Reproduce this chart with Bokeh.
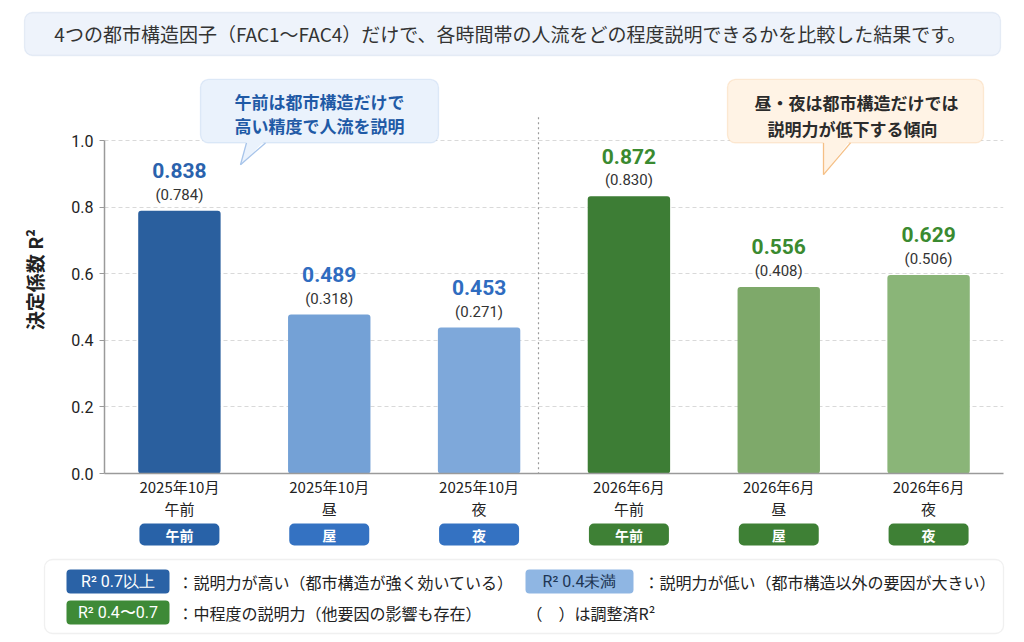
# -*- coding: utf-8 -*-
"""
R2 comparison of the four urban-structure factors, by time band (bokeh)
"""

from bokeh.plotting import figure
from bokeh.layouts import column
from bokeh.models import (ColumnDataSource, FactorRange, Range1d, FixedTicker, PrintfTickFormatter,
                          LabelSet, Label, BoxAnnotation)
from bokeh.core.properties import value
from bokeh.embed import file_html
from bokeh.resources import INLINE


## ----- DATA ----- ##
PERIODS     = ["2025年10月", "2025年10月", "2025年10月", "2026年6月", "2026年6月", "2026年6月"]
TIMES       = ["午前", "昼", "夜", "午前", "昼", "夜"]
TAGS        = ["午前", "屋", "夜", "午前", "屋", "夜"]
R2_TEXT     = ["0.838", "0.489", "0.453", "0.872", "0.556", "0.629"]
ADJ_TEXT    = ["(0.784)", "(0.318)", "(0.271)", "(0.830)", "(0.408)", "(0.506)"]
BAR_HEIGHT  = [0.790, 0.478, 0.439, 0.834, 0.561, 0.597]

Y_TICKS       = [0.0, 0.2, 0.4, 0.6, 0.8, 1.0]
Y_TICK_LABELS = ["0.0", "0.2", "0.4", "0.6", "0.8", "1.0"]

TITLE       = "4つの都市構造因子（FAC1〜FAC4）だけで、各時間帯の人流をどの程度説明できるかを比較した結果です。"
NOTE_LEFT   = ["午前は都市構造だけで", "高い精度で人流を説明"]
NOTE_RIGHT  = ["昼・夜は都市構造だけでは", "説明力が低下する傾向"]
LEGEND_SW   = ["R² 0.7以上", "R² 0.4未満", "R² 0.4〜0.7"]
LEGEND_TXT  = ["：説明力が高い（都市構造が強く効いている）", "：説明力が低い（都市構造以外の要因が大きい）",
               "：中程度の説明力（他要因の影響も存在）"]
ADJ_NOTE    = "（　）は調整済R²"


## ----- STYLE ----- ##
JP   = "Noto Sans CJK JP"
NUM  = "Roboto"

BAR_COLOURS = ["#2a5f9e", "#74a1d6", "#7ea8da", "#3d7d35", "#7ea96a", "#8ab578"]
VAL_COLOURS = ["#2a62ad", "#2f6cc0", "#2f6cc0", "#3a8a30", "#3a8a30", "#3a8a30"]
TAG_COLOURS = ["#2862a8", "#3472c2", "#3472c2", "#3e8035", "#3e8035", "#3e8035"]
SW_COLOURS  = ["#2a62a6", "#8fb6e3", "#3e8a37"]
SW_TEXT_COL = ["white", "#1d3553", "white"]

W, H = 1024, 642
SPLIT_TOP, SPLIT_BOTTOM = 66, 522      # page rows where the title / chart / legend strips meet
FRAME_L, FRAME_R = 104, 1003
AXIS_Y = 476
PX_PER_UNIT = 335.0


def strip(y0, y1):
    """full width figure whose data coords are page pixels"""
    f = figure(width=W, height=y1 - y0, x_range=Range1d(0, W), y_range=Range1d(y1, y0),
               x_axis_location=None, y_axis_location=None, min_border=0, frame_align=False,
               output_backend="svg", toolbar_location=None)
    f.grid.visible = False
    f.outline_line_color = None
    f.background_fill_color = "white"
    f.border_fill_color = "white"
    return f

def box(f, l, r, t, b, fill, line, radius=8, **kw):
    f.add_layout(BoxAnnotation(left=l, right=r, top=t, bottom=b, fill_color=fill, fill_alpha=1,
                               line_color=line, line_width=1.3, border_radius=radius, **kw))

def text(f, x, y, s, size, colour, bold=False, align="center", font=JP, **kw):
    f.add_layout(Label(x=x, y=y, text=s, text_align=align, text_baseline="middle", text_color=colour,
                       text_font=font, text_font_size=size,
                       text_font_style="bold" if bold else "normal", **kw))


## ----- TITLE STRIP ----- ##
top = strip(0, SPLIT_TOP)
box(top, 24, 1000, 12, 55, "#eef3fb", "#b9cbe4")
text(top, 510, 33, TITLE, "19px", "#333333")


## ----- CHART ----- ##
cats = ["{}\n{}".format(a, b) for a, b in zip(PERIODS, TIMES)]
n = len(cats)

src = ColumnDataSource(data=dict(cat=cats, h=BAR_HEIGHT, r2=R2_TEXT, adj=ADJ_TEXT,
                                 bar_col=BAR_COLOURS, val_col=VAL_COLOURS))

p = figure(x_range=FactorRange(factors=cats), y_range=Range1d(0, (AXIS_Y - SPLIT_TOP) / PX_PER_UNIT),
           width=W, height=SPLIT_BOTTOM - SPLIT_TOP, output_backend="svg", toolbar_location=None,
           min_border_left=FRAME_L, min_border_right=W - FRAME_R, frame_align=False,
           min_border_top=0, min_border_bottom=SPLIT_BOTTOM - AXIS_Y)
p.background_fill_color = "white"
p.border_fill_color = "white"
p.outline_line_color = None

# page-pixel y range for the callouts drawn inside the frame
p.extra_y_ranges = {"py": Range1d(AXIS_Y, SPLIT_TOP)}

def sx(px):
    """page x pixel -> synthetic x of the factor range"""
    return (px - FRAME_L) * n / (FRAME_R - FRAME_L)

# axes
p.yaxis.ticker = FixedTicker(ticks=Y_TICKS)
p.yaxis.formatter = PrintfTickFormatter(format="%.1f")
p.yaxis.major_label_overrides = dict(zip(Y_TICKS, Y_TICK_LABELS))
p.yaxis.bounds = (0, 1)
p.yaxis.axis_line_color = "#9a9a9a"
p.yaxis.axis_line_width = 1.5
p.yaxis.major_tick_line_color = "#9a9a9a"
p.yaxis.major_tick_out = 5
p.yaxis.major_tick_in = 0
p.yaxis.minor_tick_line_color = None
p.yaxis.major_label_standoff = 6
p.yaxis.major_label_text_font = NUM
p.yaxis.major_label_text_font_size = "16px"
p.yaxis.major_label_text_color = "#222222"
p.yaxis.axis_label = "決定係数 R²\u3000"      # trailing wide space nudges the label down a little
p.yaxis.axis_label_text_font = JP
p.yaxis.axis_label_text_font_size = "19px"
p.yaxis.axis_label_text_font_style = "bold"
p.yaxis.axis_label_text_color = "#222222"
p.yaxis.axis_label_standoff = 20

p.xaxis.axis_line_color = "#9a9a9a"
p.xaxis.axis_line_width = 1.5
p.xaxis.major_tick_line_color = None
p.xaxis.major_label_text_font = JP
p.xaxis.major_label_text_font_size = "15px"
p.xaxis.major_label_text_color = "#222222"
p.xaxis.major_label_text_line_height = 1.08
p.xaxis.major_label_standoff = -4

p.xgrid.grid_line_color = None
p.ygrid.grid_line_color = "#d9d9d9"
p.ygrid.grid_line_dash = "4 3"

# divider between the two surveys
p.segment(x0=[sx(538)], y0=[117], x1=[sx(538)], y1=[AXIS_Y], y_range_name="py",
          line_color="#9a9a9a", line_dash="2 3", line_width=1.2)

# bars
p.vbar(x="cat", top="h", width=0.55, fill_color="bar_col", line_color=None,
       border_radius=3, source=src)

p.add_layout(LabelSet(x="cat", y="h", text="r2", source=src, y_offset=40,
                      text_align="center", text_baseline="middle", text_color="val_col",
                      text_font=value(NUM), text_font_size="21px", text_font_style="bold"))
p.add_layout(LabelSet(x="cat", y="h", text="adj", source=src, y_offset=16,
                      text_align="center", text_baseline="middle", text_color="#333333",
                      text_font=value(NUM), text_font_size="15px"))

# callouts
def tail(xs, ys, fill, line):
    p.patch(x=[sx(v) for v in xs], y=[ys[0] - 3, ys[1] - 3, ys[2]], y_range_name="py",
            fill_color=fill, line_color=None, level="overlay")
    p.segment(x0=[sx(xs[0]), sx(xs[1])], y0=ys[:2], x1=[sx(xs[2])] * 2, y1=[ys[2]] * 2,
              y_range_name="py", line_color=line, line_width=1.3, level="overlay")

box(p, sx(200), sx(438), 79, 143, "#eaf2fc", "#a7c4ea", y_range_name="py")
tail([246, 265, 240], [143, 143, 165], "#eaf2fc", "#a7c4ea")
text(p, sx(319), 101, NOTE_LEFT[0], "17px", "#1f5aa6", bold=True, y_range_name="py")
text(p, sx(319), 125, NOTE_LEFT[1], "17px", "#1f5aa6", bold=True, y_range_name="py")

box(p, sx(727), sx(983), 79, 143, "#fff3e5", "#f5bf85", y_range_name="py")
tail([823, 850, 823], [143, 143, 175], "#fff3e5", "#f5bf85")
text(p, sx(856), 102, NOTE_RIGHT[0], "17px", "#2b2b2b", bold=True, y_range_name="py")
text(p, sx(852), 128, NOTE_RIGHT[1], "17px", "#2b2b2b", bold=True, y_range_name="py")


## ----- TAGS + LEGEND STRIP ----- ##
bot = strip(SPLIT_BOTTOM, H)

# pill under each bar, centred on the factor's slot of the chart frame
for i, (t, col) in enumerate(zip(TAGS, TAG_COLOURS)):
    cx = FRAME_L + (i + 0.5) * (FRAME_R - FRAME_L) / n
    box(bot, cx - 40, cx + 40, 523, 545, col, None, radius=5)
    text(bot, cx, 534, t, "14px", "white", bold=True)

box(bot, 44, 1003, 559, 633, "white", "#cccccc")
for (l, r, t, b), s, col, tc in zip([(66, 169, 569, 593), (525, 633, 569, 593), (66, 169, 600, 624)],
                                    LEGEND_SW, SW_COLOURS, SW_TEXT_COL):
    box(bot, l, r, t, b, col, None, radius=4)
    text(bot, (l + r) / 2, (t + b) / 2, s, "16px", tc, font=NUM)
for (tx, ty), s in zip([(177, 581), (643, 581), (177, 612)], LEGEND_TXT):
    text(bot, tx, ty, s, "16px", "#222222", align="left")
text(bot, 526, 612, ADJ_NOTE, "16px", "#222222", align="left")


layout = column(top, p, bot, spacing=0)
open("out.html", "w").write(file_html(layout, INLINE))
